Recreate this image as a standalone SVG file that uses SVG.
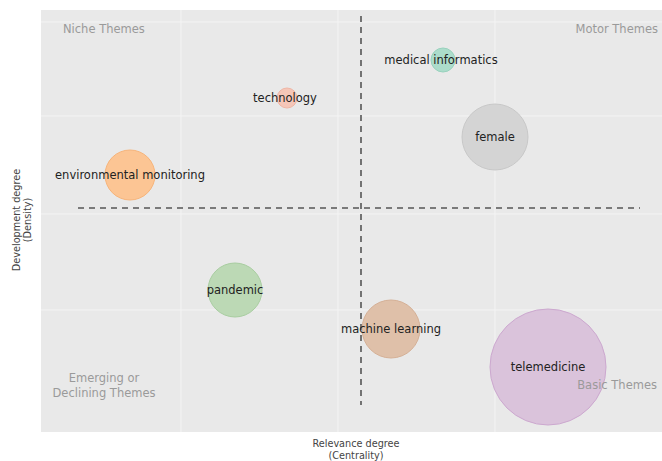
<svg xmlns="http://www.w3.org/2000/svg" width="662" height="461" viewBox="0 0 662 461">
<style>
.grid{stroke:#f4f4f4;stroke-width:1}
.dash{stroke:#555;stroke-width:1.6;stroke-dasharray:6,5;fill:none}
.q{font-family:"DejaVu Sans",Verdana,sans-serif;font-size:11.5px;fill:#9a9a9a}
.lab{font-family:"DejaVu Sans",Verdana,sans-serif;font-size:11.5px;fill:#222;text-anchor:middle}
.ax{font-family:"DejaVu Sans",Verdana,sans-serif;font-size:9.7px;fill:#444;text-anchor:middle}
.b{stroke-width:1}
</style>
<rect x="0" y="0" width="662" height="461" fill="#ffffff"/>
<rect x="41" y="10" width="621" height="422" fill="#e9e9e9"/>
<g id="grid">
<line class="grid" x1="181" y1="10" x2="181" y2="432"/>
<line class="grid" x1="338" y1="10" x2="338" y2="432"/>
<line class="grid" x1="495" y1="10" x2="495" y2="432"/>
<line class="grid" x1="41" y1="22" x2="662" y2="22"/>
<line class="grid" x1="41" y1="116" x2="662" y2="116"/>
<line class="grid" x1="41" y1="214" x2="662" y2="214"/>
<line class="grid" x1="41" y1="310" x2="662" y2="310"/>
</g>
<g id="connectors">
<line class="dash" x1="361" y1="16" x2="361" y2="405"/>
<line class="dash" x1="78" y1="208" x2="640" y2="208"/>
</g>
<g id="environmental-monitoring">
<circle class="b" cx="130" cy="175" r="25" fill="#fcc594" stroke="#f7b47a"/>
<text class="lab" x="130" y="179">environmental monitoring</text>
</g>
<g id="technology">
<circle class="b" cx="287" cy="98" r="10" fill="#f5c6b8" stroke="#efb6a5"/>
<text class="lab" x="285" y="102">technology</text>
</g>
<g id="medical-informatics">
<circle class="b" cx="443" cy="60" r="12" fill="#acdccb" stroke="#98d2bd"/>
<text class="lab" x="441" y="64">medical informatics</text>
</g>
<g id="female">
<circle class="b" cx="495" cy="137" r="33" fill="#d4d4d4" stroke="#c8c8c8"/>
<text class="lab" x="495" y="141">female</text>
</g>
<g id="pandemic">
<circle class="b" cx="235" cy="290" r="27" fill="#bcd9b5" stroke="#a8cda0"/>
<text class="lab" x="235" y="294">pandemic</text>
</g>
<g id="machine-learning">
<circle class="b" cx="391" cy="329" r="29" fill="#dfc0a9" stroke="#d5b096"/>
<text class="lab" x="391" y="333">machine learning</text>
</g>
<g id="telemedicine">
<circle class="b" cx="548" cy="367" r="58" fill="#dac3db" stroke="#cca8cf"/>
<text class="lab" x="548" y="371">telemedicine</text>
</g>
<g id="quadrant-labels">
<text class="q" x="63" y="33">Niche Themes</text>
<text class="q" x="658" y="33" text-anchor="end">Motor Themes</text>
<text class="q" x="104" y="382" text-anchor="middle">Emerging or</text>
<text class="q" x="104" y="397" text-anchor="middle">Declining Themes</text>
<text class="q" x="657" y="389" text-anchor="end">Basic Themes</text>
</g>
<g id="axis-labels">
<text class="ax" x="356" y="447">Relevance degree</text>
<text class="ax" x="356" y="459">(Centrality)</text>
<text class="ax" transform="translate(20,220) rotate(-90)">Development degree</text>
<text class="ax" transform="translate(31,220) rotate(-90)">(Density)</text>
</g>
</svg>
